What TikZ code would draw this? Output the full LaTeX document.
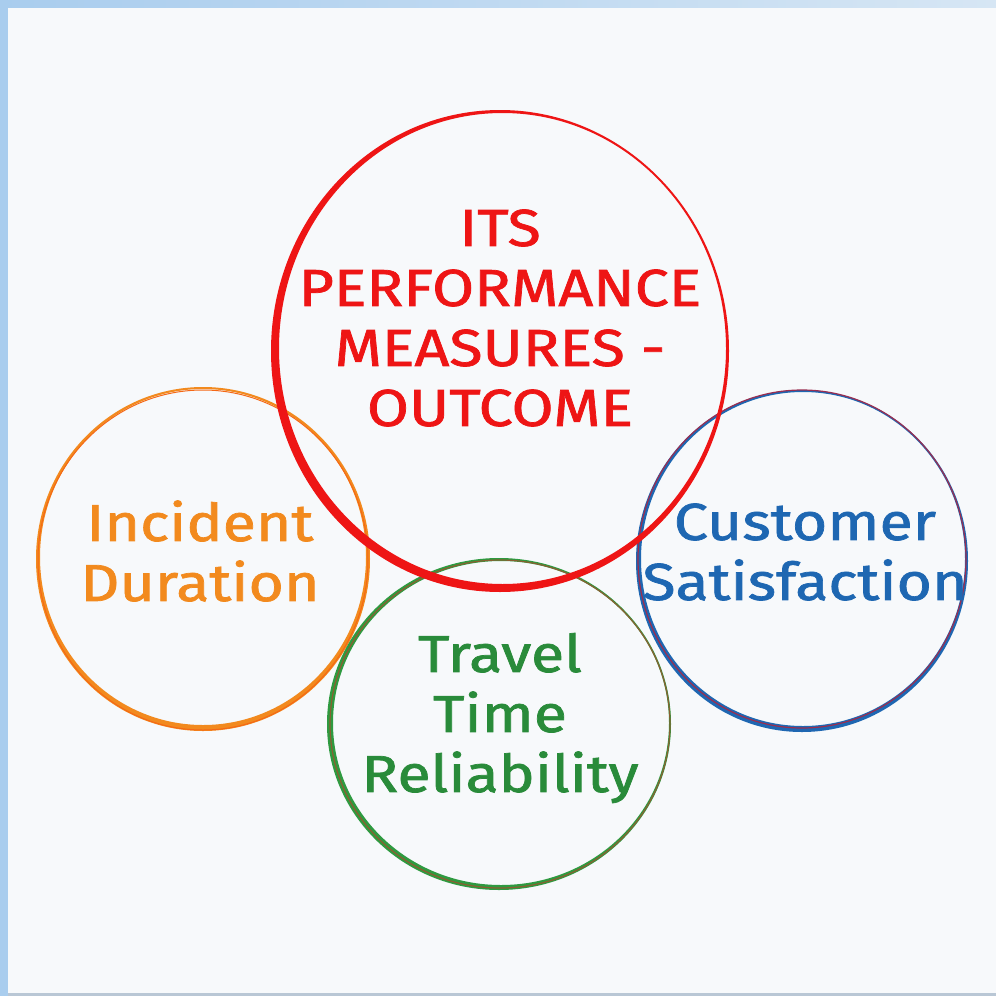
\documentclass[tikz,border=0pt]{standalone}
\usepackage{fontspec}
\setmainfont{Fira Sans}[FakeStretch = 1.17, FakeBold = 1.4]

\definecolor{paper}{HTML}{F7F9FB}
\definecolor{framedark}{HTML}{A9CDEE}
\definecolor{framelight}{HTML}{D6E6F4}
\definecolor{framegrey}{HTML}{B9C7D5}
\definecolor{itsred}{HTML}{EE1515}
\definecolor{incorange}{HTML}{F28A1E}
\definecolor{travgreen}{HTML}{2E9A40}
\definecolor{custblue}{HTML}{1E67B2}
\definecolor{underbrown}{HTML}{A0522D}

\begin{document}
\begin{tikzpicture}[x = 0.5pt, y = -0.5pt,
    every node/.style = {align = center, inner sep = 0pt},
    ringtext/.style   = {font = \fontsize{26}{30}\selectfont}]
  \useasboundingbox (0,0) rectangle (996,996);

  % paper and frame
  \fill[paper] (0,0) rectangle (996,996);
  \shade[left color = framedark, right color = framelight]
    (0,0) rectangle (996,7);
  \fill[framedark] (0,0) rectangle (8,996);
  \fill[framegrey] (8,993) rectangle (996,996);

  % rings: an outer and a shifted inner ellipse give the brush stroke
  \fill[incorange, even odd rule]
    (203,559) ellipse (167 and 172) (203,557) ellipse (163 and 168);
  \draw[incorange!75!red, line width = 0.5] (203,560) ellipse (165 and 170);

  \fill[travgreen, even odd rule]
    (499,724) ellipse (172 and 166) (501,723) ellipse (168 and 162);
  \draw[underbrown!80!travgreen, line width = 0.6] (500,724) ellipse (170 and 164);

  \fill[custblue, even odd rule]
    (802,561) ellipse (166 and 171) (803,559) ellipse (162 and 167);
  \draw[red!55!custblue, line width = 0.6] (802,559) ellipse (164 and 169);

  \fill[itsred, even odd rule]
    (500,351) ellipse (229 and 241) (502.5,348.5) ellipse (223.5 and 235.5);

  % labels
  \node[ringtext, text = itsred] (its) at (500,318)
    {ITS\\PERFORMANCE\\MEASURES -\\OUTCOME};
  \node[ringtext, text = incorange] (incident) at (200,551)
    {Incident\\Duration};
  \node[ringtext, text = custblue] (satisfaction) at (805,552)
    {Customer\\Satisfaction};
  \node[ringtext, text = travgreen!90!black] (travel) at (500,718)
    {Travel\\Time\\Reliability};
\end{tikzpicture}
\end{document}
